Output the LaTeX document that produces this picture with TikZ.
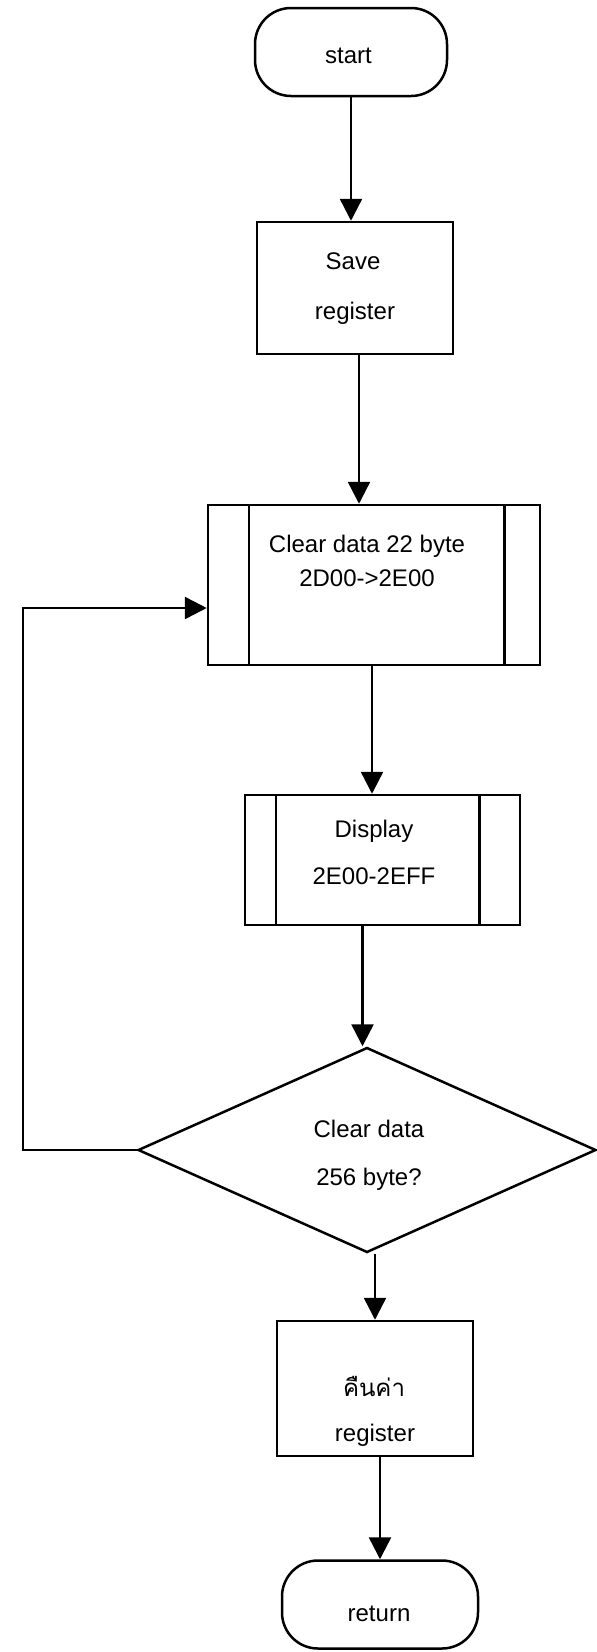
\documentclass[tikz,border=0pt]{standalone}
\usepackage{fontspec}
\setmainfont{Liberation Sans}
\newfontfamily\thaifont[Script=Thai]{Loma}
\usetikzlibrary{arrows.meta,shapes.geometric}
\tikzset{
  box/.style={draw,line width=2.5pt,rectangle,inner sep=0pt},
  term/.style={draw,line width=2.5pt,rectangle,rounded corners=36pt,inner sep=0pt},
  dec/.style={draw,line width=2.5pt,diamond,inner sep=0pt},
  txt/.style={font=\fontsize{24}{28}\selectfont,inner sep=0pt,anchor=center},
  arr/.style={line width=2.5pt,-{Triangle[length=22pt,width=22pt]}},
  ln/.style={line width=2.5pt}
}
\begin{document}
\begin{tikzpicture}[x=1pt,y=1pt]
\useasboundingbox (0,0) rectangle (597,-1652);
% shapes
\node[term,minimum width=192pt,minimum height=88pt] (start) at (351,-52) {};
\node[box,minimum width=196pt,minimum height=132pt] (save) at (355,-288) {};
\node[box,minimum width=332pt,minimum height=160pt] (clear) at (374,-585) {};
\draw[ln] ([xshift=42pt]clear.north west) -- ([xshift=42pt]clear.south west);
\draw[ln] ([xshift=-37pt]clear.north east) -- ([xshift=-37pt]clear.south east);
\node[box,minimum width=275pt,minimum height=130pt] (disp) at (382.5,-860) {};
\draw[ln] ([xshift=32pt]disp.north west) -- ([xshift=32pt]disp.south west);
\draw[ln] ([xshift=-42pt]disp.north east) -- ([xshift=-42pt]disp.south east);
\node[dec,minimum width=458pt,minimum height=205pt] (dia) at (367,-1150) {};
\node[box,minimum width=196pt,minimum height=135pt] (rest) at (375,-1388.5) {};
\node[term,minimum width=196pt,minimum height=88pt,rounded corners=36pt] (ret) at (380,-1604.5) {};
% texts
\node[txt] (t1) at (348.5,-56) {start};
\node[txt] (t2) at (353,-261) {Save};
\node[txt] (t3) at (355,-313) {register};
\node[txt] (t4) at (367,-546) {Clear data 22 byte};
\node[txt] (t5) at (367,-578) {2D00->2E00};
\node[txt] (t6) at (374,-831) {Display};
\node[txt] (t7) at (374,-876) {2E00-2EFF};
\node[txt] (t8) at (369,-1129) {Clear data};
\node[txt] (t9) at (369,-1179) {256 byte?};
\node[txt] (t10) at (374,-1386) {\thaifont คืนค่า};
\node[txt] (t11) at (375,-1435) {register};
\node[txt] (t12) at (379,-1614) {return};
% connectors
\draw[arr] (start.south) -- (start.south |- save.north);
\draw[arr] ([xshift=4pt]save.south) -- ([xshift=4pt]save.south |- clear.north);
\draw[arr] ([xshift=-2pt]clear.south) -- ([xshift=-2pt]clear.south |- disp.north);
\draw[arr] ([xshift=-20pt]disp.south) -- ([xshift=-20pt]disp.south |- dia.north);
\draw[arr] (rest.north |- dia.south) -- (rest.north);
\draw[arr] (ret.north |- rest.south) -- (ret.north);
\draw[arr] (dia.west) -- ++(-114pt,0) |- ([yshift=-23pt]clear.west);
\end{tikzpicture}
\end{document}
